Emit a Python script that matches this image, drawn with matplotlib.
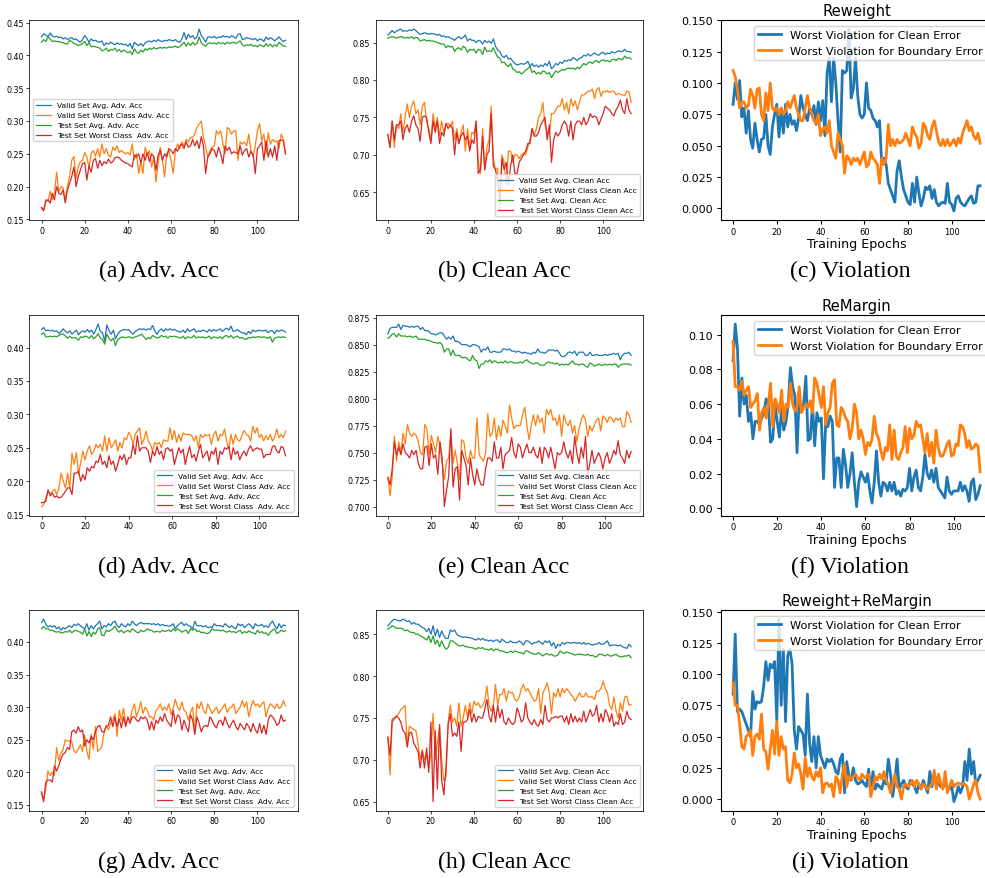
import matplotlib
matplotlib.use("Agg")
from matplotlib import pyplot
from matplotlib.ticker import MultipleLocator
import numpy as np

# values are stored in thousandths (0.428 -> 428)
epochs = np.arange(114)
epochs_mid = np.arange(113)

adv_labels = ["Valid Set Avg. Adv. Acc", "Valid Set Worst Class Adv. Acc",
              "Test Set Avg. Adv. Acc", "Test Set Worst Class  Adv. Acc"]
clean_labels = ["Valid Set Avg. Clean Acc", "Valid Set Worst Class Clean Acc",
                "Test Set Avg. Clean Acc", "Test Set Worst Class Clean Acc"]
vio_labels = ["Worst Violation for Clean Error", "Worst Violation for Boundary Error"]
vio_titles = ["Reweight", "ReMargin", "Reweight+ReMargin"]
vio_steps = [0.025, 0.02, 0.025]
captions = [["(a) Adv. Acc", "(b) Clean Acc", "(c) Violation"],
            ["(d) Adv. Acc", "(e) Clean Acc", "(f) Violation"],
            ["(g) Adv. Acc", "(h) Clean Acc", "(i) Violation"]]

# ---- row 1: Reweight ----
a_valid_avg = [428,433,431,428,434,430,428,429,427,428,
               425,427,424,426,427,424,425,422,420,424,
               430,426,420,425,422,423,421,420,422,415,
               419,417,420,418,416,419,417,418,416,417,
               414,418,410,420,417,415,418,414,419,421,
               422,420,423,421,424,422,421,423,422,424,
               423,422,424,421,420,425,435,424,432,427,
               430,425,428,440,430,426,420,428,428,427,
               429,426,428,427,430,428,429,427,430,428,
               426,432,433,424,425,427,426,425,424,426,
               422,425,424,421,428,424,427,425,422,425,
               428,424,421,423]
a_valid_worst = [168,165,180,178,193,180,190,222,192,200,
                 198,180,200,215,240,246,212,230,238,240,
                 252,245,230,250,255,246,258,245,265,250,
                 258,248,245,260,255,262,252,255,252,250,
                 252,248,265,242,250,220,238,220,260,248,
                 255,230,245,207,235,260,240,215,250,255,
                 240,220,255,265,258,268,262,272,268,275,
                 275,280,290,295,300,275,260,245,255,260,
                 262,285,280,285,265,250,290,288,280,285,
                 285,240,268,265,268,262,280,255,245,262,
                 285,296,270,280,250,282,265,272,268,270,
                 258,280,272,250]
a_test_avg = [420,424,421,428,425,421,422,421,421,420,
              419,418,417,423,421,418,417,415,416,418,
              421,415,419,413,414,413,412,411,407,408,
              411,406,409,408,411,406,409,405,408,406,
              404,406,401,410,405,403,408,405,410,408,
              411,409,412,410,411,412,411,412,411,413,
              412,413,414,412,413,417,420,414,419,415,
              420,416,418,428,419,416,414,418,419,418,
              419,417,420,418,419,417,420,418,419,420,
              418,420,422,416,414,416,415,417,414,415,
              413,416,415,413,418,414,417,413,416,414,
              420,417,414,414]
a_test_worst = [168,163,178,180,175,190,180,200,190,188,
                195,175,195,205,215,230,200,215,225,235,
                237,210,232,222,240,243,228,240,232,238,
                235,242,236,238,244,245,244,240,238,236,
                235,232,230,248,245,250,236,250,240,252,
                238,250,246,225,248,255,240,250,245,258,
                255,250,258,254,262,265,258,268,260,262,
                272,262,270,258,276,262,220,245,250,258,
                255,245,260,250,235,262,255,260,250,253,
                252,250,262,248,255,258,245,254,248,220,
                258,262,268,240,270,245,258,245,262,240,
                270,271,270,250]

b_valid_avg = [860,863,866,863,865,867,868,865,866,865,
               867,866,868,866,863,861,862,863,862,861,
               862,862,861,860,861,858,859,857,858,856,
               855,853,856,858,855,857,860,852,855,853,
               853,850,853,852,848,853,850,852,849,855,
               845,840,838,832,830,833,828,829,825,822,
               820,821,822,821,822,825,818,822,818,820,
               817,820,818,822,819,825,815,818,822,820,
               824,822,826,825,827,826,830,828,826,829,
               830,833,832,835,832,834,836,834,833,836,
               837,834,836,835,838,836,837,839,838,838,
               841,838,838,837]
b_valid_worst = [727,710,745,710,740,735,755,730,750,768,
                 750,765,772,755,760,740,765,770,745,735,
                 720,755,735,750,725,745,730,740,742,738,
                 745,720,735,715,730,740,705,735,710,730,
                 728,745,690,675,735,680,710,720,765,695,
                 680,682,625,700,690,660,705,705,690,700,
                 700,695,700,702,700,710,720,735,725,735,
                 750,755,770,740,730,728,755,755,760,765,
                 765,775,760,770,755,775,765,772,760,770,
                 780,780,782,785,785,788,775,787,790,778,
                 785,784,786,783,785,785,780,782,781,780,
                 779,785,784,770]
b_test_avg = [856,857,858,857,856,857,858,857,856,857,
              856,858,855,857,856,852,853,854,852,853,
              852,852,851,850,849,848,848,843,846,844,
              845,838,842,843,840,845,843,837,841,840,
              841,836,841,840,834,844,838,839,838,843,
              836,831,829,823,824,820,818,822,815,813,
              810,811,808,810,813,815,818,810,812,808,
              810,808,812,811,808,810,803,808,812,810,
              812,814,813,815,816,815,816,814,817,815,
              819,822,820,823,824,822,825,826,823,826,
              827,825,826,824,827,828,826,829,828,827,
              832,829,830,828]
b_test_worst = [727,710,745,720,740,740,745,720,735,740,
                730,745,752,740,735,718,750,752,750,730,
                715,745,730,745,715,730,725,742,735,740,
                735,700,730,715,725,730,720,725,705,720,
                715,745,675,680,725,680,700,705,755,685,
                680,665,640,695,680,690,660,685,700,675,
                675,690,695,700,705,715,715,735,725,725,
                730,740,745,750,720,740,690,720,730,725,
                730,740,745,740,725,745,720,740,745,745,
                740,750,740,745,755,750,752,750,740,748,
                755,765,762,760,755,752,760,765,773,760,
                755,775,760,755]

c_clean = [83,100,87,102,73,80,60,78,55,48,
           68,55,45,55,56,75,50,43,65,75,
           83,57,80,60,83,65,75,67,70,62,
           72,90,80,75,70,80,75,82,67,85,
           70,86,58,108,120,85,120,100,70,45,
           110,108,110,143,88,95,120,90,75,72,
           75,100,80,78,72,70,65,70,35,40,
           35,20,15,10,5,30,38,25,15,10,
           5,3,20,5,25,12,2,8,17,15,
           18,8,15,5,2,4,5,4,20,5,
           3,-2,8,10,5,3,2,5,8,10,
           4,5,18,18]
c_boundary = [110,105,95,80,85,85,80,82,95,90,
              80,95,96,75,70,92,78,100,80,78,
              80,75,80,75,78,85,80,85,90,80,
              75,70,70,80,90,80,75,70,68,75,
              58,63,65,60,70,50,45,40,60,55,
              50,28,42,40,35,40,38,40,35,40,
              45,33,35,45,40,38,35,20,40,35,
              40,67,50,55,50,55,52,53,55,60,
              55,50,65,60,57,48,52,68,65,58,
              55,65,70,62,53,50,55,50,55,50,
              52,55,50,56,52,60,65,70,62,65,
              58,55,60,52]

# ---- row 2: ReMargin ----
d_valid_avg = [427,430,425,426,425,426,424,425,421,424,
               428,424,422,425,420,423,426,419,423,425,
               423,427,423,426,420,427,435,424,422,410,
               434,425,420,426,413,420,424,426,427,426,
               427,423,420,424,426,428,427,428,426,428,
               427,433,425,420,425,428,424,428,426,428,
               426,427,425,424,423,426,422,428,424,426,
               428,423,425,424,426,425,423,427,424,427,
               425,426,428,424,427,429,426,432,424,425,
               427,424,422,422,419,424,421,426,424,425,
               426,425,425,426,422,425,425,421,426,424,
               426,425,423]
d_valid_worst = [162,165,175,185,180,185,188,180,190,212,
                 200,190,212,190,242,225,243,210,228,245,
                 232,245,253,240,245,255,250,255,245,268,
                 245,265,250,255,262,245,258,250,265,262,
                 273,268,255,270,275,280,255,262,275,260,
                 255,245,258,255,258,250,262,260,260,280,
                 262,276,258,270,260,272,270,270,270,268,
                 260,268,250,270,265,270,268,270,255,270,
                 275,260,270,268,278,260,248,270,255,270,
                 262,260,268,276,270,268,260,282,272,280,
                 265,270,260,268,262,270,260,265,278,265,
                 270,265,275]
d_test_avg = [420,422,416,416,417,416,417,416,418,420,
              420,417,414,417,414,415,414,411,416,415,
              417,416,414,418,413,416,421,414,412,405,
              420,414,410,414,403,412,414,416,415,415,
              416,415,414,416,417,418,420,416,412,415,
              413,418,416,414,415,418,416,417,414,417,
              416,417,416,415,414,417,413,416,415,415,
              418,414,416,415,416,414,415,417,413,416,
              415,414,416,413,417,418,415,418,414,416,
              417,414,415,413,412,415,414,416,415,416,
              416,415,416,415,414,416,408,414,415,416,
              415,416,415]
d_test_worst = [168,168,170,187,178,182,176,178,175,176,
                180,185,190,190,180,212,212,215,200,210,
                202,220,215,222,220,230,228,240,225,230,
                220,238,225,230,215,225,238,232,240,225,
                235,235,255,240,268,245,250,250,250,245,
                228,245,238,252,240,245,232,248,250,245,
                248,225,238,250,242,248,225,240,252,235,
                240,230,245,255,235,240,245,230,245,240,
                250,225,245,240,250,248,252,232,250,240,
                245,232,240,245,238,248,253,245,248,250,
                248,248,235,240,240,240,252,253,245,242,
                252,250,238]

e_valid_avg = [860,865,866,866,866,869,864,868,867,867,
               866,867,866,867,867,864,866,863,863,862,
               860,860,859,860,861,861,858,855,857,855,
               858,853,853,852,850,850,850,849,848,850,
               850,849,848,843,846,845,848,843,843,844,
               843,843,843,846,846,845,846,844,844,843,
               844,843,842,843,842,842,841,843,842,846,
               843,843,842,843,845,845,845,844,845,842,
               839,839,840,843,843,842,844,840,843,843,
               843,840,840,843,840,840,841,840,840,840,
               841,840,841,841,842,841,842,836,840,842,
               842,843,840]
e_valid_worst = [727,710,727,765,742,760,750,768,758,776,
                 768,765,768,766,760,750,748,776,772,748,
                 766,758,750,765,756,740,725,742,745,770,
                 740,752,740,725,762,760,745,740,752,745,
                 745,782,748,745,742,750,786,765,768,782,
                 762,775,765,780,775,768,794,782,772,775,
                 775,775,785,792,775,762,775,785,775,785,
                 778,782,768,790,785,790,780,782,775,785,
                 765,785,778,775,780,768,775,760,772,780,
                 785,780,765,775,770,775,780,782,770,784,
                 782,778,783,782,778,782,780,782,774,774,
                 788,785,778]
e_test_avg = [856,857,860,860,857,860,858,858,858,857,
              858,857,857,858,855,855,855,855,854,854,
              853,852,852,851,852,850,843,846,846,840,
              845,840,840,840,838,838,838,836,835,840,
              836,835,828,832,832,835,834,836,833,835,
              834,833,834,833,835,833,834,834,833,833,
              833,834,833,835,836,834,833,832,833,833,
              831,831,831,833,834,833,833,832,833,831,
              832,831,832,831,833,835,832,832,831,832,
              832,830,829,833,832,830,831,832,831,831,
              832,831,832,831,832,832,829,831,832,832,
              832,832,831]
e_test_worst = [727,720,735,760,748,755,748,758,750,748,
                745,752,748,752,740,735,735,755,756,738,
                758,745,748,730,760,745,700,715,728,772,
                718,735,737,706,752,745,738,720,745,730,
                720,735,725,720,720,735,745,745,742,760,
                745,745,755,735,748,750,752,764,750,745,
                758,755,745,752,758,750,750,755,748,745,
                755,740,755,752,745,755,745,735,750,748,
                750,760,750,745,752,740,765,750,740,755,
                745,765,730,740,752,740,745,750,745,735,
                745,750,740,745,752,748,761,748,745,740,
                752,745,751]

f_clean = [85,106,92,53,75,60,65,50,55,40,
           50,50,48,52,55,63,60,38,40,60,
           50,41,58,45,50,60,81,70,65,32,
           65,56,60,76,39,40,60,36,55,50,
           52,17,50,47,53,50,12,29,29,12,
           34,25,12,20,32,15,1,15,21,18,
           15,20,10,3,15,33,15,7,15,14,
           10,15,10,15,8,10,7,11,10,12,
           23,10,18,22,12,10,18,31,20,17,
           22,15,23,12,10,8,6,18,10,8,
           10,10,10,15,10,13,10,4,15,17,
           5,8,13]
f_boundary = [96,70,70,68,73,65,68,70,58,60,
              62,66,45,55,58,52,60,72,47,63,
              60,55,68,50,60,58,72,60,56,58,
              70,55,58,60,58,62,55,75,72,65,
              58,70,48,55,58,72,74,48,47,58,
              56,52,50,40,46,60,55,40,45,40,
              31,38,36,40,53,43,40,33,28,35,
              33,48,28,45,30,28,32,35,47,32,
              46,40,42,50,47,48,40,32,43,30,
              38,26,45,35,30,30,33,37,39,30,
              31,37,36,48,47,43,35,39,34,35,
              37,36,21]

# ---- row 3: Reweight+ReMargin ----
g_valid_avg = [430,435,427,423,425,423,425,420,423,418,
               422,420,423,425,422,427,425,428,425,422,
               420,428,418,425,420,425,428,432,420,425,
               423,428,425,430,432,425,422,428,425,423,
               428,425,432,428,425,428,430,428,428,428,
               428,427,428,426,428,425,427,425,425,424,
               425,428,420,425,428,430,425,428,425,424,
               420,432,425,425,425,423,425,422,423,422,
               428,425,425,425,423,428,425,422,425,422,
               420,428,425,427,422,425,428,425,420,428,
               425,425,427,423,425,422,428,432,425,420,
               428,422,426,425]
g_valid_worst = [168,158,175,202,195,200,195,238,218,230,
                 235,250,248,248,248,232,230,235,242,232,
                 258,232,220,258,235,270,232,235,240,262,
                 272,265,275,280,290,255,295,280,298,275,
                 282,280,295,305,285,295,308,290,300,295,
                 285,285,280,295,298,305,295,300,295,305,
                 288,298,312,300,295,308,295,292,280,292,
                 300,262,305,298,308,295,290,305,298,290,
                 295,300,290,295,300,305,292,298,300,305,
                 290,295,300,310,300,308,285,300,310,302,
                 305,300,305,308,285,298,305,302,298,305,
                 298,300,310,302]
g_test_avg = [420,424,420,420,418,418,416,415,416,414,
              414,416,415,418,414,417,418,416,415,412,
              420,409,416,408,415,412,420,422,410,410,
              418,416,418,420,424,418,415,418,414,416,
              418,415,420,418,415,414,418,416,417,420,
              418,418,415,416,416,415,418,416,417,418,
              416,420,417,420,418,415,417,418,413,420,
              418,420,416,417,414,415,413,413,415,420,
              418,418,418,417,418,416,415,417,415,416,
              414,416,418,413,416,414,417,415,414,412,
              418,414,416,413,414,410,415,418,420,413,
              415,418,416,417]
g_test_worst = [170,155,185,188,188,185,210,202,210,220,
                228,230,238,235,262,265,260,270,262,265,
                240,250,245,255,250,262,270,272,262,262,
                270,272,285,270,285,270,282,268,285,270,
                285,275,285,285,280,278,285,282,285,280,
                265,278,265,280,275,285,278,290,280,275,
                270,295,275,288,285,265,280,270,262,288,
                280,258,285,275,262,270,272,270,285,280,
                272,268,278,280,272,285,275,268,275,280,
                270,265,275,270,265,275,270,262,275,265,
                260,275,260,272,258,280,288,285,280,272,
                275,288,278,280]

h_valid_avg = [860,863,866,868,867,866,866,868,867,865,
               866,862,864,862,862,860,858,857,853,857,
               850,860,848,856,846,854,848,845,845,855,
               853,855,850,848,847,846,847,846,846,845,
               844,843,845,843,845,843,843,842,843,841,
               843,843,840,844,842,840,840,842,840,840,
               840,842,840,837,842,842,840,838,840,840,
               842,840,838,842,840,842,836,840,833,838,
               836,840,838,840,840,839,840,840,839,840,
               838,840,838,839,838,837,838,838,840,838,
               838,840,842,836,837,837,837,836,837,835,
               834,833,838,835]
h_valid_worst = [727,682,745,748,752,755,760,762,765,720,
                 740,738,736,735,720,700,712,700,705,690,
                 706,755,700,720,740,700,675,680,745,765,
                 745,750,740,768,740,750,765,750,768,755,
                 770,765,768,762,765,770,788,765,758,765,
                 790,765,778,778,785,770,782,780,780,772,
                 770,775,785,790,782,785,780,775,770,772,
                 785,755,780,785,792,780,755,780,775,785,
                 775,785,780,785,782,778,775,770,775,780,
                 775,775,780,775,775,775,772,782,782,785,
                 794,785,780,765,760,775,758,750,768,758,
                 775,776,765,766]
h_test_avg = [856,858,860,859,857,857,857,856,854,855,
              853,852,852,850,850,848,847,845,843,848,
              840,848,838,843,835,842,836,832,834,842,
              842,840,838,836,836,837,835,835,834,834,
              833,832,834,833,834,832,832,831,833,830,
              832,832,830,830,829,828,828,830,828,830,
              829,828,828,826,830,830,828,827,826,826,
              828,826,824,826,827,825,826,824,824,825,
              830,828,827,829,828,827,826,825,826,826,
              826,825,825,826,824,825,823,823,826,826,
              825,824,826,824,824,825,826,824,823,823,
              824,824,825,822]
h_test_worst = [727,705,748,750,752,750,745,735,732,715,
                732,733,720,715,710,690,710,690,714,685,
                745,650,735,665,742,675,658,690,742,755,
                728,732,728,745,710,745,745,748,760,745,
                755,745,752,750,750,760,772,752,745,765,
                745,765,750,760,745,742,750,745,742,745,
                762,755,745,748,768,750,745,742,748,742,
                740,748,742,765,748,745,750,750,752,750,
                752,752,745,752,742,755,745,752,745,750,
                745,758,745,752,760,752,755,765,745,755,
                745,760,755,745,755,740,745,742,755,742,
                745,758,750,748]

i_clean = [84,132,70,72,70,65,60,55,50,86,
           72,78,77,78,90,110,95,108,105,110,
           63,144,75,120,62,115,120,108,55,40,
           58,55,52,35,84,45,30,50,25,50,
           35,30,25,32,30,32,28,22,20,32,
           36,5,30,18,15,25,15,12,13,15,
           12,10,24,5,22,8,12,10,8,15,
           12,32,20,2,15,32,8,12,15,10,
           8,15,12,10,5,12,8,15,10,5,
           22,10,20,15,12,10,10,12,10,8,
           10,-2,3,10,5,10,30,15,40,20,
           30,12,15,19]
i_boundary = [93,75,75,60,42,40,50,52,55,35,
              50,52,48,68,40,38,24,40,55,36,
              62,35,50,40,42,15,13,20,37,25,
              28,20,8,33,18,25,18,15,22,18,
              25,5,12,13,10,12,2,18,15,5,
              20,28,10,18,16,18,20,17,15,20,
              17,18,20,2,10,18,15,20,16,22,
              15,12,5,12,20,10,8,0,10,12,
              10,12,15,10,15,12,8,12,10,8,
              10,12,23,8,20,12,8,22,5,10,
              15,10,12,13,12,12,12,10,0,5,
              12,15,5,0]

colors = pyplot.rcParams['axes.prop_cycle'].by_key()['color']

W, H = 985, 879
fig = pyplot.figure(figsize=(W / 100, H / 100), dpi=100)

def rect(x0, x1, y0, y1):
    # pixel box (from the top left) -> figure fraction
    return [x0 / W, 1 - y1 / H, (x1 - x0) / W, (y1 - y0) / H]

cols = [(29.3, 297.7), (375.7, 643.3), (720.7, 992.5)]
rows = [(21, 221), (316, 516.7), (611, 811.7)]
cap_x = [159, 504, 850]
cap_y = [277, 573, 868]


def acc_panel(ax, x, series, labels, loc):
    for y, lab, c in zip(series, labels, colors):
        ax.plot(x, np.array(y) / 1000, color=c, lw=0.9, label=lab)
    ax.tick_params(labelsize=5.7, length=2, width=0.5, pad=2)
    for sp in ax.spines.values():
        sp.set_linewidth(0.55)
    ax.legend(loc=loc, fontsize=5.4)


def vio_panel(ax, x, clean, boundary, title, step):
    ax.plot(x, np.array(clean) / 1000, color=colors[0], lw=2, label=vio_labels[0])
    ax.plot(x, np.array(boundary) / 1000, color=colors[1], lw=2, label=vio_labels[1])
    ax.yaxis.set_major_locator(MultipleLocator(step))
    ax.set_title(title, fontsize=10.6, pad=3.5)
    ax.set_xlabel("Training Epochs", fontsize=9.1, labelpad=1)
    ax.tick_params(axis="y", labelsize=8, length=2.8, pad=2.5)
    ax.tick_params(axis="x", labelsize=6, length=2.8, pad=2)
    ax.legend(loc="upper right", fontsize=8.1)


adv_sets = [[a_valid_avg, a_valid_worst, a_test_avg, a_test_worst],
            [d_valid_avg, d_valid_worst, d_test_avg, d_test_worst],
            [g_valid_avg, g_valid_worst, g_test_avg, g_test_worst]]
clean_sets = [[b_valid_avg, b_valid_worst, b_test_avg, b_test_worst],
              [e_valid_avg, e_valid_worst, e_test_avg, e_test_worst],
              [h_valid_avg, h_valid_worst, h_test_avg, h_test_worst]]
vio_sets = [(c_clean, c_boundary), (f_clean, f_boundary), (i_clean, i_boundary)]
adv_locs = ["center left", "lower right", "lower right"]
row_x = [epochs, epochs_mid, epochs]

for r in range(3):
    y0, y1 = rows[r]
    ax = fig.add_axes(rect(*cols[0], y0, y1))
    acc_panel(ax, row_x[r], adv_sets[r], adv_labels, adv_locs[r])
    ax = fig.add_axes(rect(*cols[1], y0, y1))
    acc_panel(ax, row_x[r], clean_sets[r], clean_labels, "lower right")
    ax = fig.add_axes(rect(*cols[2], y0, y1))
    vio_panel(ax, row_x[r], *vio_sets[r], vio_titles[r], vio_steps[r])
    for c in range(3):
        fig.text(cap_x[c] / W, 1 - cap_y[r] / H, captions[r][c], ha="center",
                 va="baseline", fontsize=17.2, family="Liberation Serif")

fig.savefig("out.png", dpi=100)
